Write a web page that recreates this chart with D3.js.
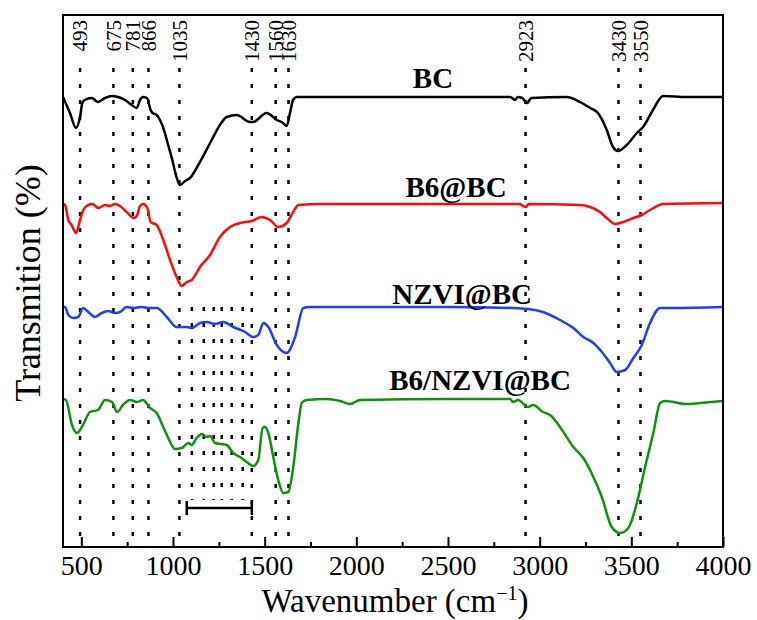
<!DOCTYPE html>
<html>
<head>
<meta charset="utf-8">
<script src="https://cdnjs.cloudflare.com/ajax/libs/d3/7.8.5/d3.min.js"></script>
<style>
  body { margin: 0; background: #fff; }
  svg text { fill: #000; }
</style>
</head>
<body>
<svg id="chart" width="757" height="620"></svg>
<script>
// spectra: [wavenumber, transmission (offset, a.u.)]
const bc = [[400,45.0],[438,43.4],[471,41.9],[493,43.0],[507,44.5],[529,44.8],[557,44.9],[591,44.5],[629,44.9],[666,45.1],[700,45.0],[738,44.7],[775,44.2],[802,43.9],[820,44.7],[836,45.0],[858,44.9],[878,43.7],[889,43.4],[911,43.2],[929,42.7],[956,41.4],[966,40.7],[995,38.8],[1016,37.2],[1038,36.2],[1066,36.6],[1093,36.9],[1147,38.5],[1211,40.7],[1256,42.2],[1293,43.0],[1348,43.2],[1420,42.5],[1436,42.5],[1511,43.4],[1566,42.7],[1600,42.4],[1620,42.1],[1638,43.4],[1655,44.7],[1675,45.0],[1747,45.0],[2000,45.0],[2500,45.0],[2840,45.0],[2866,44.7],[2880,45.0],[2905,44.9],[2931,44.4],[2955,44.9],[3148,45.0],[3220,44.5],[3275,43.9],[3318,43.4],[3366,41.7],[3400,40.0],[3428,39.6],[3475,40.2],[3530,41.4],[3564,42.0],[3618,43.7],[3673,45.1],[3800,45.0],[4000,45.0]];

const b6bc = [[400,34.3],[411,34.2],[429,32.7],[447,32.2],[471,31.4],[493,32.7],[511,33.7],[529,34.1],[560,34.3],[593,33.9],[629,34.2],[656,34.1],[684,34.3],[711,34.1],[747,33.5],[787,32.9],[805,33.2],[820,34.1],[838,34.3],[860,33.9],[878,32.5],[911,32.2],[947,30.7],[984,28.7],[1020,27.0],[1047,26.1],[1075,26.5],[1102,26.7],[1147,28.0],[1202,29.2],[1256,31.0],[1311,32.0],[1366,32.4],[1429,32.6],[1484,33.0],[1529,32.7],[1574,32.0],[1620,32.4],[1656,33.5],[1684,34.2],[1802,34.3],[2500,34.3],[2890,34.3],[2910,34.1],[2925,34.0],[2940,34.3],[3220,34.2],[3275,34.0],[3329,33.5],[3366,32.9],[3411,32.3],[3456,32.5],[3511,32.9],[3557,33.2],[3602,33.7],[3675,34.3],[4000,34.4]];

const nzvibc = [[400,24.0],[411,24.0],[429,23.2],[456,22.9],[483,23.0],[511,23.9],[538,23.5],[575,23.0],[611,23.4],[647,23.6],[684,23.4],[711,23.5],[747,24.0],[783,23.9],[829,24.0],[865,23.9],[911,23.9],[966,23.0],[1020,22.0],[1075,22.0],[1102,21.9],[1147,22.4],[1184,22.5],[1229,22.3],[1274,22.5],[1329,22.0],[1393,21.5],[1438,21.0],[1465,21.2],[1493,22.4],[1520,22.0],[1566,20.2],[1620,19.4],[1666,21.0],[1711,23.9],[1747,24.0],[2500,24.0],[2855,23.9],[2937,23.8],[3018,23.5],[3111,22.7],[3184,21.9],[3238,21.0],[3293,20.4],[3339,19.5],[3384,18.4],[3420,17.5],[3466,17.7],[3511,18.9],[3557,20.2],[3602,22.4],[3657,23.9],[3729,23.9],[4000,24.0]];

const b6nzvibc = [[400,14.8],[416,14.7],[449,12.2],[476,11.4],[509,12.2],[547,13.5],[591,13.7],[629,14.7],[667,14.5],[695,13.5],[727,14.2],[765,14.7],[804,14.5],[836,14.7],[875,13.9],[911,13.4],[947,12.0],[974,10.9],[1011,9.8],[1047,9.9],[1084,10.4],[1102,10.2],[1129,10.9],[1157,11.3],[1184,11.0],[1202,11.1],[1229,10.4],[1266,10.3],[1293,10.2],[1329,9.4],[1366,9.0],[1402,8.5],[1438,8.1],[1465,8.7],[1489,11.9],[1502,12.0],[1520,11.4],[1547,9.0],[1574,6.7],[1602,5.4],[1629,5.5],[1656,8.0],[1684,12.4],[1702,14.4],[1729,14.7],[1838,14.8],[1911,14.6],[1966,14.3],[2020,14.7],[2500,14.8],[2838,14.8],[2855,14.5],[2882,14.7],[2937,14.0],[2964,14.2],[3018,13.5],[3057,13.2],[3111,12.0],[3184,10.0],[3238,8.9],[3293,7.0],[3339,5.0],[3393,2.0],[3439,1.4],[3484,1.9],[3530,4.4],[3575,8.0],[3620,11.4],[3657,14.4],[3684,14.6],[3802,14.3],[3875,14.4],[4000,14.6]];

const seriesNames = ["BC", "B6@BC", "NZVI@BC", "B6/NZVI@BC"];
const peaks = [493, 675, 781, 866, 1035, 1430, 1560, 1630, 2923, 3430, 3550];
const fingerprint = [1103, 1168, 1222, 1266, 1320, 1380];
const bracketRange = [1075, 1430];
const xTicks = [500, 1000, 1500, 2000, 2500, 3000, 3500, 4000];
const xMinor = [750, 1250, 1750, 2250, 2750, 3250, 3750];

const svg = d3.select("#chart");
const mLeft = 63, mRight = 723, mTop = 15, mBottom = 547;
const serif = "'Liberation Serif', 'Times New Roman', serif";

const x = d3.scaleLinear().domain([400, 4000]).range([mLeft, mRight]);
const y = d3.scaleLinear().domain([0, 53.2]).range([mBottom, mTop]);

// peak guide lines
svg.append("g").selectAll("line")
    .data(peaks)
    .enter().append("line")
    .attr("x1", d => x(d)).attr("x2", d => x(d))
    .attr("y1", 68).attr("y2", mBottom)
    .attr("stroke", "#000")
    .attr("stroke-width", 2.5)
    .attr("stroke-dasharray", "4,12");

svg.append("g").selectAll("line")
    .data(fingerprint)
    .enter().append("line")
    .attr("x1", d => x(d)).attr("x2", d => x(d))
    .attr("y1", y(24.0)).attr("y2", y(4.7))
    .attr("stroke", "#000")
    .attr("stroke-width", 2.5)
    .attr("stroke-dasharray", "4,12");

// bracket
let br = svg.append("g").attr("stroke", "#000").attr("stroke-width", 2.5);
br.append("line")
    .attr("x1", x(bracketRange[0])).attr("x2", x(bracketRange[1]))
    .attr("y1", y(3.9)).attr("y2", y(3.9));
bracketRange.forEach(function (d) {
    br.append("line")
        .attr("x1", x(d)).attr("x2", x(d))
        .attr("y1", y(3.9) - 7).attr("y2", y(3.9) + 7);
});

// peak labels
svg.append("g").selectAll("text")
    .data(peaks)
    .enter().append("text")
    .attr("transform", d => "translate(" + x(d) + ",20) rotate(-90)")
    .attr("text-anchor", "end")
    .attr("dy", "0.35em")
    .style("font-family", serif)
    .style("font-size", "21px")
    .text(d => d);

// spectra
let line = d3.line()
    .x(d => x(d[0]))
    .y(d => y(d[1]))
    .curve(d3.curveMonotoneX);

let spectra = [bc, b6bc, nzvibc, b6nzvibc];
let colors = ["#000000", "#ff0a0a", "#1f3cff", "#109010"];

svg.append("g").selectAll("path")
    .data(spectra)
    .enter().append("path")
    .attr("d", line)
    .attr("fill", "none")
    .attr("stroke", (d, i) => colors[i])
    .attr("stroke-width", 2.5)
    .attr("stroke-linejoin", "round");

// series names
let nameAt = [[2418, 45.9], [2544, 35.0], [2577, 24.3], [2675, 15.7]];
svg.append("g").selectAll("text")
    .data(seriesNames)
    .enter().append("text")
    .attr("x", (d, i) => x(nameAt[i][0]))
    .attr("y", (d, i) => y(nameAt[i][1]))
    .attr("text-anchor", "middle")
    .style("font-family", serif)
    .style("font-size", "29px")
    .style("font-weight", "bold")
    .text(d => d);

// x axis (ticks point inward)
let ax = svg.append("g").attr("transform", "translate(0," + mBottom + ")");
ax.call(d3.axisBottom(x).tickValues(xTicks).tickSize(-10).tickPadding(8).tickFormat(d3.format("d")));
ax.attr("font-family", null);
ax.select(".domain").remove();
ax.selectAll(".tick line").attr("stroke-width", 2);
ax.selectAll(".tick text")
    .style("font-family", serif)
    .style("font-size", "28px");

let axm = svg.append("g").attr("transform", "translate(0," + mBottom + ")");
axm.call(d3.axisBottom(x).tickValues(xMinor).tickSize(-5).tickFormat(""));
axm.select(".domain").remove();
axm.selectAll(".tick line").attr("stroke-width", 2);

// frame
svg.append("rect")
    .attr("x", mLeft).attr("y", mTop)
    .attr("width", mRight - mLeft).attr("height", mBottom - mTop)
    .attr("fill", "none")
    .attr("stroke", "#000")
    .attr("stroke-width", 2);

// axis titles
let xt = svg.append("text")
    .attr("x", 395).attr("y", 612)
    .attr("text-anchor", "middle")
    .style("font-family", serif)
    .style("font-size", "33px");
xt.append("tspan").text("Wavenumber (cm");
xt.append("tspan").attr("dy", -12).style("font-size", "20px").text("\u22121");
xt.append("tspan").attr("dy", 12).text(")");

svg.append("text")
    .attr("transform", "translate(40,283) rotate(-90)")
    .attr("text-anchor", "middle")
    .style("font-family", serif)
    .style("font-size", "36px")
    .text("Transmition (%)");
</script>
</body>
</html>
